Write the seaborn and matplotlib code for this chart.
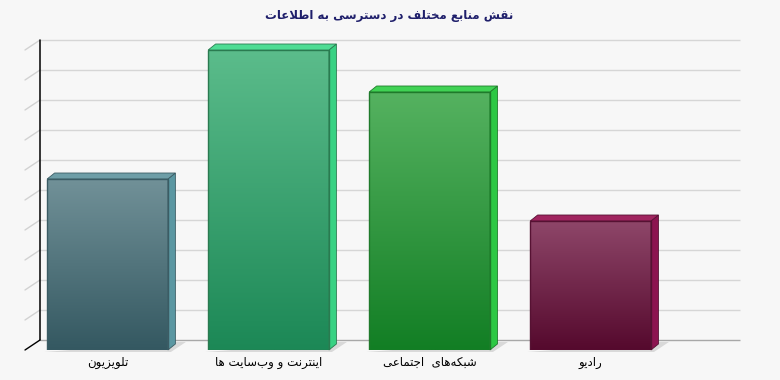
import numpy as np
import pandas as pd
import matplotlib
matplotlib.use("Agg")
import matplotlib.pyplot as plt
import seaborn as sns
from matplotlib.patches import Polygon
from matplotlib.colors import LinearSegmentedColormap

# ---------------- data ----------------
title = "نقش منابع مختلف در دسترسی به اطلاعات"
categories = ["تلویزیون", "اینترنت و وب\u200cسایت ها", "شبکه\u200cهای  اجتماعی", "رادیو"]
values = [5.7, 10.0, 8.6, 4.3]
grid_values = list(range(0, 11))

front_top = ["#719198", "#5bbc8b", "#55b260", "#8e4669"]
front_bottom = ["#345861", "#1c8856", "#127e24", "#55092d"]
side_colors = ["#5b97a2", "#38d283", "#2dc844", "#8c1450"]
top_colors = ["#6e9ea7", "#4fdc94", "#40d254", "#a0245f"]
edge_colors = ["#3b5c64", "#2a7a50", "#1f7a2b", "#561233"]

# ---------------- simple Persian shaping ----------------
FORMS = {
    "\u0627": ("\uFE8D", "\uFE8E", None, None),
    "\u0628": ("\uFE8F", "\uFE90", "\uFE91", "\uFE92"),
    "\u062A": ("\uFE95", "\uFE96", "\uFE97", "\uFE98"),
    "\u062C": ("\uFE9D", "\uFE9E", "\uFE9F", "\uFEA0"),
    "\u062E": ("\uFEA5", "\uFEA6", "\uFEA7", "\uFEA8"),
    "\u062F": ("\uFEA9", "\uFEAA", None, None),
    "\u0631": ("\uFEAD", "\uFEAE", None, None),
    "\u0632": ("\uFEAF", "\uFEB0", None, None),
    "\u0633": ("\uFEB1", "\uFEB2", "\uFEB3", "\uFEB4"),
    "\u0634": ("\uFEB5", "\uFEB6", "\uFEB7", "\uFEB8"),
    "\u0637": ("\uFEC1", "\uFEC2", "\uFEC3", "\uFEC4"),
    "\u0639": ("\uFEC9", "\uFECA", "\uFECB", "\uFECC"),
    "\u0641": ("\uFED1", "\uFED2", "\uFED3", "\uFED4"),
    "\u0642": ("\uFED5", "\uFED6", "\uFED7", "\uFED8"),
    "\u0644": ("\uFEDD", "\uFEDE", "\uFEDF", "\uFEE0"),
    "\u0645": ("\uFEE1", "\uFEE2", "\uFEE3", "\uFEE4"),
    "\u0646": ("\uFEE5", "\uFEE6", "\uFEE7", "\uFEE8"),
    "\u0647": ("\uFEE9", "\uFEEA", "\uFEEB", "\uFEEC"),
    "\u0648": ("\uFEED", "\uFEEE", None, None),
    "\u06CC": ("\uFBFC", "\uFBFD", "\uFBFE", "\uFBFF"),
    "\u06A9": ("\uFB8E", "\uFB8F", "\uFB90", "\uFB91"),
}


def dual(c):
    return c in FORMS and FORMS[c][2] is not None


def shape(text):
    chars = list(text)
    out = []
    i = 0
    n = len(chars)
    while i < n:
        c = chars[i]
        prev = chars[i - 1] if i > 0 else None
        if c not in FORMS:
            if c != "\u200c":
                out.append(c)
            i += 1
            continue
        join_prev = prev is not None and dual(prev)
        if c == "\u0644" and i + 1 < n and chars[i + 1] == "\u0627":
            out.append("\uFEFC" if join_prev else "\uFEFB")
            i += 2
            continue
        nxt = chars[i + 1] if i + 1 < n else None
        join_next = dual(c) and nxt is not None and nxt in FORMS
        iso, fin, ini, med = FORMS[c]
        if join_prev and join_next:
            out.append(med)
        elif join_prev:
            out.append(fin)
        elif join_next:
            out.append(ini)
        else:
            out.append(iso)
        i += 1
    return "".join(reversed(out))


# ---------------- figure ----------------
sns.set_theme(style="white")
plt.rcParams["font.family"] = ["DejaVu Sans"]

W, H = 780, 380
fig = plt.figure(figsize=(W / 100, H / 100), dpi=100)
bg = "#f7f7f7"
fig.patch.set_facecolor(bg)

front_left, front_right = 25, 725
base_y_from_top = 350
ax = fig.add_axes([front_left / W, (H - base_y_from_top) / H,
                   (front_right - front_left) / W, 300 / H])
ax.set_facecolor("none")

df = pd.DataFrame({"category": categories, "value": values})
sns.barplot(data=df, x="category", y="value", hue="category",
            palette=front_top, legend=False, width=0.75, ax=ax,
            saturation=1, zorder=3)

xlim = (-0.5124, 3.835)
ylim = (0, 10)
ax.set_xlim(*xlim)
ax.set_ylim(*ylim)

sx = (xlim[1] - xlim[0]) / (front_right - front_left)  # data per px
sy = (ylim[1] - ylim[0]) / 300.0

# back wall
wall_dx, wall_dy = 15 * sx, 10 * sy
for v in grid_values:
    col = "#a8a8a8" if v == 0 else "#d6d6d6"
    ax.plot([xlim[0] + wall_dx, xlim[1] + wall_dx], [v + wall_dy, v + wall_dy],
            color=col, lw=1, clip_on=False, zorder=1, solid_capstyle="butt")
    dcol = "black" if v == 0 else "#d2d2d2"
    ax.plot([xlim[0], xlim[0] + wall_dx], [v, v + wall_dy], color=dcol,
            lw=1, clip_on=False, zorder=1)
ax.plot([xlim[0] + wall_dx, xlim[0] + wall_dx], [wall_dy, 10 + wall_dy],
        color="black", lw=1.1, clip_on=False, zorder=2)

# bars: gradient, side and top faces
bar_dx, bar_dy = 7.5 * sx, 6 * sy
patches = sorted(ax.patches, key=lambda p: p.get_x())
for i, p in enumerate(patches):
    x0 = p.get_x()
    w = p.get_width()
    h = p.get_height()
    x1 = x0 + w
    shadow = Polygon([(x0 - 3 * sx, -2 * sy), (x1 + 3 * sx, -2 * sy),
                      (x1 + 18 * sx, 8 * sy), (x1 + 8 * sx, 8 * sy)],
                     closed=True, facecolor="#d9d9d9", edgecolor="none",
                     zorder=2, clip_on=False)
    ax.add_patch(shadow)
    cmap = LinearSegmentedColormap.from_list(f"g{i}", [front_bottom[i], front_top[i]])
    grad = np.linspace(0, 1, 256).reshape(-1, 1)
    im = ax.imshow(grad, extent=[x0, x1, 0, h], origin="lower", aspect="auto",
                   cmap=cmap, zorder=4, clip_on=False)
    im.set_clip_path(p)
    p.set_facecolor("none")
    p.set_edgecolor(edge_colors[i])
    p.set_linewidth(1)
    p.set_zorder(5)
    side = Polygon([(x1, 0), (x1 + bar_dx, bar_dy), (x1 + bar_dx, h + bar_dy), (x1, h)],
                   closed=True, facecolor=side_colors[i], edgecolor=edge_colors[i],
                   lw=0.6, zorder=4, clip_on=False)
    ax.add_patch(side)
    top = Polygon([(x0, h), (x0 + bar_dx, h + bar_dy), (x1 + bar_dx, h + bar_dy), (x1, h)],
                  closed=True, facecolor=top_colors[i], edgecolor=edge_colors[i],
                  lw=0.6, zorder=4, clip_on=False)
    ax.add_patch(top)

ax.set_xlim(*xlim)
ax.set_ylim(*ylim)

for s in ax.spines.values():
    s.set_visible(False)
ax.set_yticks([])
ax.set_xlabel("")
ax.set_ylabel("")
ax.set_xticks(range(len(categories)))
ax.set_xticklabels([shape(c) for c in categories], fontsize=8.5, color="black")
ax.tick_params(axis="x", length=0, pad=4)

fig.text(389 / W, 1 - 15 / H, shape(title), ha="center", va="center",
         fontsize=8.5, fontweight="bold", color="#1f1f6b")

fig.savefig("out.png", dpi=100, facecolor=bg)
